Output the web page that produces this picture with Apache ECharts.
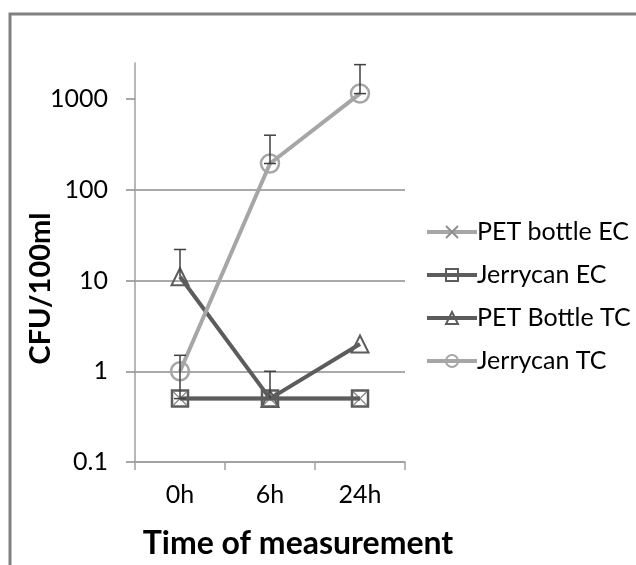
<!DOCTYPE html>
<html><head><meta charset="utf-8">
<script src="https://cdn.jsdelivr.net/npm/echarts@6/dist/echarts.min.js"></script>
<style>html,body{margin:0;padding:0;background:#fff}#c{width:636px;height:565px}</style>
</head><body><div id="c"></div>
<script>
const categories = ['0h', '6h', '24h'];
const petBottleEC = [0.5, 0.5, 0.5];
const jerrycanEC = [0.5, 0.5, 0.5];
const petBottleTC = [11, 0.5, 2];
const jerrycanTC = [1, 195, 1150];
const petBottleTCErrLow = [11, 0.5, null];
const petBottleTCErrHigh = [22, 1.0, null];
const jerrycanTCErrLow = [0.5, 195, 1150];
const jerrycanTCErrHigh = [1.5, 400, 2400];
const yTicks = [0.1, 1, 10, 100, 1000];

const LIGHT = '#a6a6a6', DARK = '#5c5c5c', ERR = '#404040';
const FONT = 'Lato';

function errData(low, high, lowCap) {
  const out = [];
  for (let i = 0; i < low.length; i++) {
    if (low[i] != null && high[i] != null) out.push([i, low[i], high[i], lowCap ? 1 : 0]);
  }
  return out;
}
function errRender(params, api) {
  const x = api.value(0);
  const lo = api.coord([x, api.value(1)]);
  const hi = api.coord([x, api.value(2)]);
  const hw = 6;
  const children = [
    {type: 'line', shape: {x1: lo[0], y1: lo[1], x2: hi[0], y2: hi[1]}, style: {stroke: ERR, lineWidth: 1.5}},
    {type: 'line', shape: {x1: hi[0] - hw, y1: hi[1], x2: hi[0] + hw, y2: hi[1]}, style: {stroke: ERR, lineWidth: 1.5}}
  ];
  if (api.value(3)) children.push({type: 'line', shape: {x1: lo[0] - hw, y1: lo[1], x2: lo[0] + hw, y2: lo[1]}, style: {stroke: ERR, lineWidth: 1.5}});
  return {type: 'group', children};
}

const chart = echarts.init(document.getElementById('c'), null, {renderer: 'canvas'});
chart.setOption({
  animation: false,
  backgroundColor: '#fff',
  graphic: [{type: 'rect', shape: {x: 10, y: 14, width: 700, height: 700}, style: {fill: 'none', stroke: '#808080', lineWidth: 3}, z: 100}],
  grid: {left: 135, top: 63, right: 231, bottom: 103},
  legend: {
    left: 420, top: 212, orient: 'vertical', itemWidth: 50, itemHeight: 15, itemGap: 13,
    lineStyle: {width: 4},
    textStyle: {fontFamily: FONT, fontSize: 25, color: '#000', lineHeight: 30, padding: [0, 0, 0, -5]},
    data: ['PET bottle EC', 'Jerrycan EC', 'PET Bottle TC', 'Jerrycan TC']
  },
  xAxis: {
    type: 'category', data: categories, boundaryGap: true,
    axisLine: {lineStyle: {color: '#a0a0a0', width: 1.5}},
    axisTick: {show: true, length: 8, lineStyle: {color: '#a0a0a0', width: 1.5}},
    axisLabel: {fontFamily: FONT, fontSize: 25, color: '#000', margin: 20},
    name: 'Time of measurement', nameLocation: 'middle', nameGap: 66,
    nameTextStyle: {fontFamily: FONT, fontSize: 32, fontWeight: 'bold', color: '#000', padding: [0, 0, 0, 56]}
  },
  yAxis: {
    type: 'log', logBase: 10, min: 0.1, max: 2500, interval: 1,
    axisLine: {show: true, lineStyle: {color: '#a0a0a0', width: 1.5}},
    axisTick: {show: true, length: 9, customValues: yTicks, lineStyle: {color: '#8c8c8c', width: 1.5}},
    axisLabel: {fontFamily: FONT, fontSize: 25, color: '#000', margin: 27, customValues: yTicks, formatter: v => String(v)},
    splitLine: {show: true, showMaxLine: false, lineStyle: {color: '#8c8c8c', width: 1.5}},
    name: 'CFU/100ml', nameLocation: 'middle', nameGap: 80, nameRotate: 90, nameMoveOverlap: false,
    nameTextStyle: {fontFamily: FONT, fontSize: 29, fontWeight: 'bold', color: '#000', padding: [0, 52, 0, 0]}
  },
  series: [
    {name: 'PET bottle EC', type: 'line', data: petBottleEC, symbol: 'path://M0,0L10,10M10,0L0,10', symbolSize: 13,
      lineStyle: {color: LIGHT, width: 4}, itemStyle: {color: 'transparent', borderColor: '#909090', borderWidth: 1.5}, z: 2},
    {name: 'Jerrycan EC', type: 'line', data: jerrycanEC, symbol: 'rect', symbolSize: 16,
      lineStyle: {color: DARK, width: 4}, itemStyle: {color: 'transparent', borderColor: DARK, borderWidth: 2.5}, z: 3},
    {name: 'PET Bottle TC', type: 'line', data: petBottleTC, symbol: 'triangle', symbolSize: 17,
      lineStyle: {color: DARK, width: 4}, itemStyle: {color: 'transparent', borderColor: DARK, borderWidth: 2}, z: 4},
    {name: 'Jerrycan TC', type: 'line', data: jerrycanTC, symbol: 'circle', symbolSize: 18,
      lineStyle: {color: LIGHT, width: 4}, itemStyle: {color: 'transparent', borderColor: LIGHT, borderWidth: 2.5}, z: 5},
    {name: 'errPET', type: 'custom', renderItem: errRender, data: errData(petBottleTCErrLow, petBottleTCErrHigh, false), z: 6, silent: true},
    {name: 'errJC', type: 'custom', renderItem: errRender, data: errData(jerrycanTCErrLow, jerrycanTCErrHigh, true), z: 6, silent: true}
  ]
});
</script></body></html>
